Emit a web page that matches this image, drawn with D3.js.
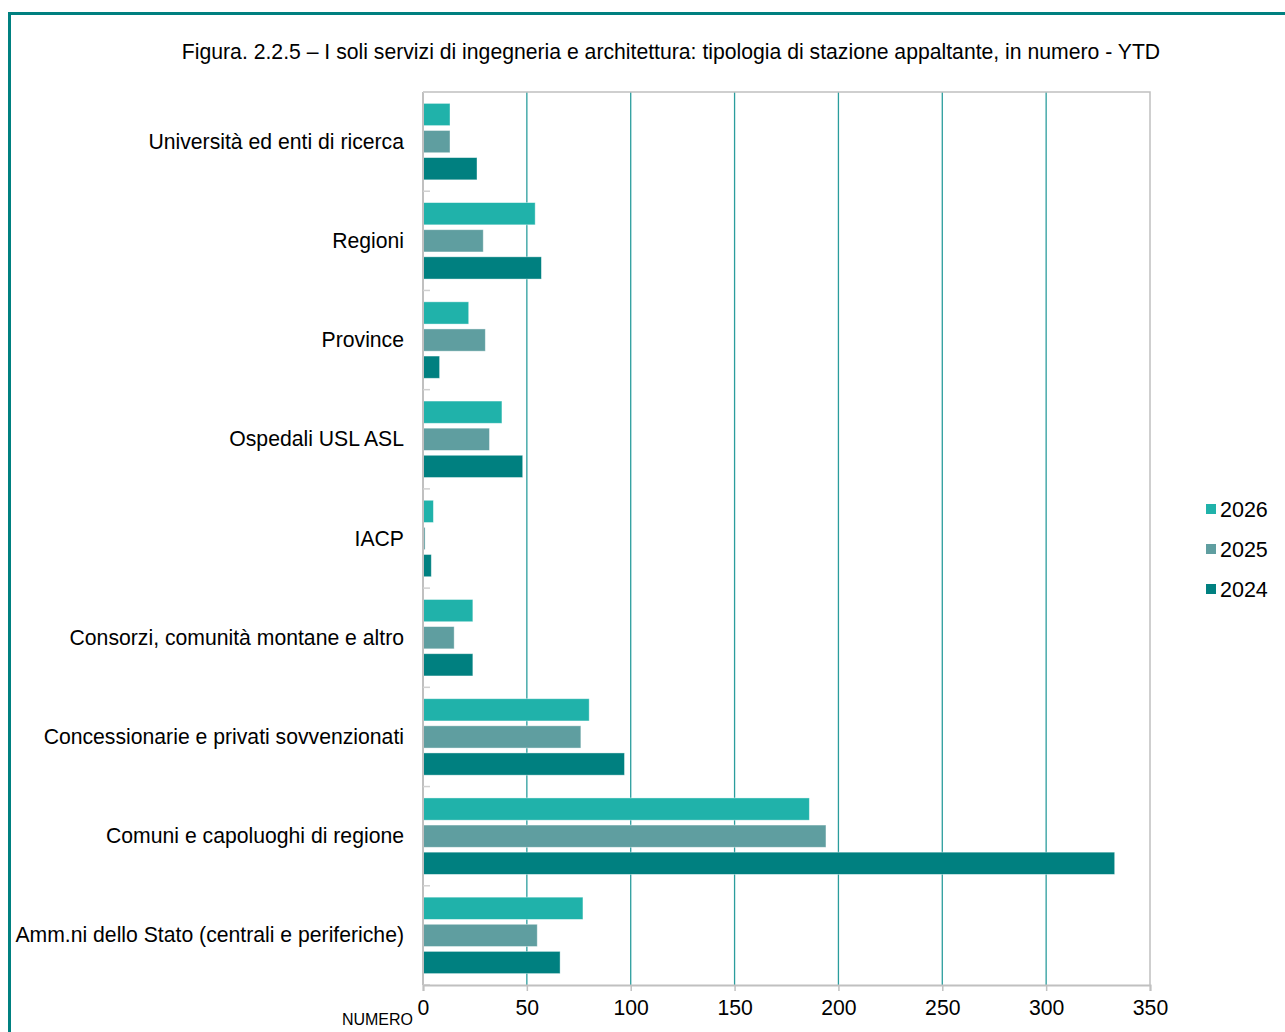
<!DOCTYPE html>
<html><head><meta charset="utf-8">
<script src="https://cdn.jsdelivr.net/npm/d3@7"></script>
<style>body{margin:0;background:#fff;}svg{display:block;font-family:"Liberation Sans",Arial,sans-serif;}</style>
</head><body>
<svg id="c" width="1285" height="1032"></svg>
<script>
const categories = ["Università ed enti di ricerca","Regioni","Province","Ospedali USL ASL","IACP","Consorzi, comunità montane e altro","Concessionarie e privati sovvenzionati","Comuni e capoluoghi di regione","Amm.ni dello Stato (centrali e periferiche)"];
const seriesNames = ["2026","2025","2024"];
const values2026 = [13,54,22,38,5,24,80,186,77];
const values2025 = [13,29,30,32,1,15,76,194,55];
const values2024 = [26,57,8,48,4,24,97,333,66];
const xTicks = [0,50,100,150,200,250,300,350];
const colors = ["#20B2AA","#5F9EA0","#008080"];
const title = "Figura. 2.2.5 – I soli servizi di ingegneria e architettura: tipologia di stazione appaltante, in numero - YTD";

const svg = d3.select("#c");
const m = {left:423, right:1150, top:92, bottom:985};
const x = d3.scaleLinear().domain([0,350]).range([m.left,m.right]);
const y = d3.scaleBand().domain(categories).range([m.top,m.bottom]).paddingInner(0).paddingOuter(0);
const ySub = d3.scaleBand().domain(seriesNames).range([0,y.bandwidth()]).paddingInner(0.18).paddingOuter(0.42);

// frame
svg.append("path").attr("d","M9.5,1032 V13.5 H1285").attr("fill","none").attr("stroke","#008080").attr("stroke-width",3);

// title
svg.append("text").attr("x",671).attr("y",59).attr("text-anchor","middle").attr("font-size",21.2).attr("fill","#000").text(title);

// gridlines
svg.append("g").selectAll("line").data(xTicks.filter(d=>d>0&&d<350)).join("line")
  .attr("x1",d=>x(d)).attr("x2",d=>x(d)).attr("y1",m.top).attr("y2",m.bottom)
  .attr("stroke","#2A9D9D").attr("stroke-width",1.3);

// plot border top/right
svg.append("path").attr("d",`M${m.left},${m.top} H${m.right} V${m.bottom}`).attr("fill","none").attr("stroke","#c0c0c0").attr("stroke-width",1.5);

// bars
const data = categories.map((c,i)=>({c, vals:[values2026[i],values2025[i],values2024[i]]}));
const g = svg.append("g");
data.forEach(d=>{
  d.vals.forEach((v,j)=>{
    g.append("rect").attr("x",x(0)).attr("y",y(d.c)+ySub(seriesNames[j]))
     .attr("width",x(v)-x(0)).attr("height",ySub.bandwidth())
     .attr("fill",colors[j]).attr("stroke","rgba(255,255,255,0.5)").attr("stroke-width",0.8);
  });
});

// y axis
const yAxis = svg.append("g").attr("transform",`translate(${m.left},0)`);
yAxis.append("line").attr("x1",0).attr("x2",0).attr("y1",m.top).attr("y2",m.bottom).attr("stroke","#c0c0c0").attr("stroke-width",2);
yAxis.selectAll("line.t").data(d3.range(categories.length+1)).join("line").attr("class","t")
  .attr("x1",0).attr("x2",7).attr("y1",i=>m.top+i*y.step()).attr("y2",i=>m.top+i*y.step())
  .attr("stroke","#d0d0d0").attr("stroke-width",1.5);
svg.append("g").selectAll("text").data(categories).join("text")
  .attr("x",404).attr("y",d=>y(d)+y.bandwidth()/2+7).attr("text-anchor","end")
  .attr("font-size",21.2).attr("fill","#000").text(d=>d);

// x axis
const xAxis = svg.append("g").attr("transform",`translate(0,${m.bottom})`)
  .call(d3.axisBottom(x).tickValues(xTicks).tickSize(6).tickPadding(9).tickFormat(d3.format("d")));
xAxis.select(".domain").attr("stroke","#c0c0c0").attr("stroke-width",2);
xAxis.selectAll(".tick line").attr("stroke","#c0c0c0").attr("stroke-width",1.5);
xAxis.selectAll(".tick text").attr("font-size",21.2).attr("fill","#000").attr("font-family","Liberation Sans, Arial, sans-serif");
svg.append("text").attr("x",413).attr("y",1025).attr("text-anchor","end").attr("font-size",16).attr("fill","#000").text("NUMERO");

// legend
const leg = svg.append("g").selectAll("g").data(seriesNames).join("g")
  .attr("transform",(d,i)=>`translate(1206,${509+i*40})`);
leg.append("rect").attr("x",0).attr("y",-5).attr("width",10).attr("height",10).attr("fill",(d,i)=>colors[i]);
leg.append("text").attr("x",14).attr("y",8).attr("font-size",21.5).attr("fill","#000").text(d=>d);
</script>
</body></html>
